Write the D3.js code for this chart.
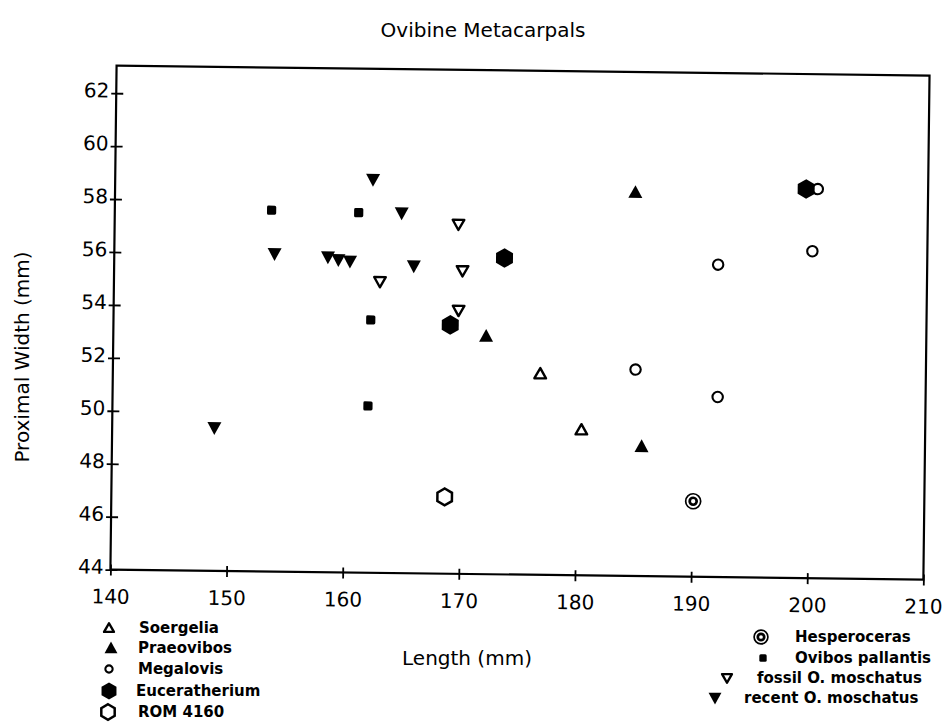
<!DOCTYPE html>
<meta charset="utf-8">
<html>
<head>
<script src="https://d3js.org/d3.v7.min.js"></script>
<style>
  body { margin: 0; background: white; }
  text { font-family: "DejaVu Sans", sans-serif; fill: black; }
  .legend text { font-weight: bold; font-size: 15px; }
</style>
</head>
<body>
<div id="chart"></div>
<script>
// values: [length mm, proximal width mm]
const soergelia       = [[176.8, 51.6], [180.4, 49.5]];
const praeovibos      = [[172.1, 53.0], [184.8, 58.5], [185.6, 48.9]];
const megalovis       = [[185.0, 51.8], [192.1, 50.8], [192.0, 55.8], [200.1, 56.35], [200.5, 58.7]];
const euceratherium   = [[169.0, 53.4], [173.6, 55.95], [199.5, 58.7]];
const rom4160         = [[168.7, 46.9]];
const hesperoceras    = [[190.1, 46.85]];
const ovibosPallantis = [[153.5, 57.65], [161.0, 57.6], [162.15, 53.55], [162.0, 50.3]];
const fossilMoschatus = [[162.9, 55.0], [169.6, 57.2], [170.0, 55.45], [169.7, 53.95]];
const recentMoschatus = [[148.8, 49.4], [153.8, 56.0], [158.4, 55.9], [159.3, 55.8], [160.3, 55.75],
                         [162.2, 58.85], [164.7, 57.6], [165.8, 55.6]];

const xTicks = [140, 150, 160, 170, 180, 190, 200, 210];
const yTicks = [44, 46, 48, 50, 52, 54, 56, 58, 60, 62];

// draw order matters: circles go under the hexagon at 200 mm
const series = [
  {name: "Megalovis", kind: "circle", data: megalovis},
  {name: "Soergelia", kind: "triUpOpen", data: soergelia},
  {name: "Praeovibos", kind: "triUp", data: praeovibos},
  {name: "Euceratherium", kind: "hex", data: euceratherium},
  {name: "ROM 4160", kind: "hexOpen", data: rom4160},
  {name: "Hesperoceras", kind: "double", data: hesperoceras},
  {name: "Ovibos pallantis", kind: "square", data: ovibosPallantis},
  {name: "fossil O. moschatus", kind: "triDownOpen", data: fossilMoschatus},
  {name: "recent O. moschatus", kind: "triDown", data: recentMoschatus}
];

const width = 944, height = 722;
const margin = {left: 113, right: 18, top: 70, bottom: 148};

const svg = d3.select("#chart").append("svg")
  .attr("width", width).attr("height", height);

// the scan is tilted a little clockwise, so the plot box is too
const plot = svg.append("g").attr("transform", "rotate(0.7, 472, 361)");

const x = d3.scaleLinear().domain([140, 210]).range([margin.left, width - margin.right]);
const y = d3.scaleLinear().domain([44, 63.04]).range([height - margin.bottom, margin.top]);

function marker(g, kind, k) {
  k = k || 1;
  const tri = [[0, -7 * k], [7 * k, 5.8 * k], [-7 * k, 5.8 * k]];
  const hexPts = (r) => d3.range(6).map(i => {
    const a = (-90 + 60 * i) * Math.PI / 180;
    return [r * Math.cos(a), r * Math.sin(a)];
  });
  const line = d3.line();
  if (kind === "triUp") {
    g.append("path").attr("d", line(tri) + "Z").attr("fill", "black");
  } else if (kind === "triDown") {
    g.append("path").attr("d", line(tri) + "Z").attr("fill", "black").attr("transform", "rotate(180)");
  } else if (kind === "triUpOpen" || kind === "triDownOpen") {
    const pts = [[0, -5.6 * k], [5.8 * k, 4.6 * k], [-5.8 * k, 4.6 * k]];
    g.append("path").attr("d", line(pts) + "Z")
      .attr("fill", "white").attr("stroke", "black").attr("stroke-width", 2.4)
      .attr("stroke-linejoin", "round")
      .attr("transform", kind === "triDownOpen" ? "rotate(180)" : null);
  } else if (kind === "square") {
    g.append("rect").attr("x", -4.6 * k).attr("y", -4.6 * k)
      .attr("width", 9.2 * k).attr("height", 9.2 * k).attr("rx", 1.5).attr("fill", "black");
  } else if (kind === "circle") {
    g.append("circle").attr("r", 5.2 * k).attr("fill", "white")
      .attr("stroke", "black").attr("stroke-width", 2.1);
  } else if (kind === "hex") {
    g.append("path").attr("d", line(hexPts(9.8 * k)) + "Z").attr("fill", "black");
  } else if (kind === "hexOpen") {
    g.append("path").attr("d", line(hexPts(8.4 * k)) + "Z").attr("fill", "white")
      .attr("stroke", "black").attr("stroke-width", 2.5);
  } else if (kind === "double") {
    g.append("circle").attr("r", 7.5 * k).attr("fill", "white")
      .attr("stroke", "black").attr("stroke-width", 1.7);
    g.append("circle").attr("r", 3.5 * k).attr("fill", "white")
      .attr("stroke", "black").attr("stroke-width", 2.7);
  }
}

// frame
plot.append("rect")
  .attr("x", x(140)).attr("y", y(63.04))
  .attr("width", x(210) - x(140)).attr("height", y(44) - y(63.04))
  .attr("fill", "none").attr("stroke", "black").attr("stroke-width", 2.2);

// x axis, ticks cross the line
const xAxis = plot.append("g")
  .attr("transform", "translate(0," + y(44) + ")")
  .call(d3.axisBottom(x).tickValues(xTicks).tickSize(6).tickFormat(d3.format("d")));
xAxis.select(".domain").remove();
xAxis.selectAll(".tick line").attr("y1", -5).attr("y2", 6).attr("stroke-width", 1.8);
xAxis.selectAll(".tick text").attr("y", 27).attr("dy", "0.35em")
  .style("font-family", "DejaVu Sans").style("font-size", "20px");

// y axis
const yAxis = plot.append("g")
  .attr("transform", "translate(" + x(140) + ",0)")
  .call(d3.axisLeft(y).tickValues(yTicks).tickSize(6).tickFormat(d3.format("d")));
yAxis.select(".domain").remove();
yAxis.selectAll(".tick line").attr("x1", -5).attr("x2", 7).attr("stroke-width", 1.8);
yAxis.selectAll(".tick text").attr("x", -7).attr("dy", "0.32em").attr("y", -2.5)
  .style("font-family", "DejaVu Sans").style("font-size", "20px");

// points
series.forEach(s => {
  plot.append("g").selectAll("g")
    .data(s.data).enter()
    .append("g")
    .attr("transform", d => "translate(" + x(d[0]) + "," + y(d[1]) + ")")
    .each(function() { marker(d3.select(this), s.kind); });
});

// titles
svg.append("text").attr("x", 483).attr("y", 30).attr("dy", "0.35em")
  .attr("text-anchor", "middle").style("font-size", "20px").text("Ovibine Metacarpals");
svg.append("text").attr("x", 467).attr("y", 658).attr("dy", "0.35em")
  .attr("text-anchor", "middle").style("font-size", "20px").text("Length (mm)");
svg.append("text").attr("transform", "translate(22,357) rotate(-90)").attr("dy", "0.35em")
  .attr("text-anchor", "middle").style("font-size", "20px").text("Proximal Width (mm)");

// legends: symbol position, text start
const leftLegend = [
  {kind: "triUpOpen", label: "Soergelia", sx: 109, tx: 139, y: 628},
  {kind: "triUp", label: "Praeovibos", sx: 111, tx: 138, y: 648},
  {kind: "circle", label: "Megalovis", sx: 109, tx: 138, y: 669},
  {kind: "hex", label: "Euceratherium", sx: 109, tx: 136, y: 691},
  {kind: "hexOpen", label: "ROM 4160", sx: 108, tx: 138, y: 712}
];
const rightLegend = [
  {kind: "double", label: "Hesperoceras", sx: 761, tx: 795, y: 637},
  {kind: "square", label: "Ovibos pallantis", sx: 763, tx: 795, y: 658},
  {kind: "triDownOpen", label: "fossil O. moschatus", sx: 727, tx: 757, y: 678},
  {kind: "triDown", label: "recent O. moschatus", sx: 715, tx: 744, y: 698}
];
const legendScale = {triUpOpen: 0.85, triUp: 0.92, circle: 0.7, hex: 0.88, hexOpen: 0.92,
  double: 0.92, square: 0.8, triDownOpen: 0.85, triDown: 0.92};

const legend = svg.append("g").attr("class", "legend");
leftLegend.concat(rightLegend).forEach(d => {
  const g = legend.append("g").attr("transform", "translate(" + d.sx + "," + d.y + ")");
  marker(g, d.kind, legendScale[d.kind]);
  legend.append("text").attr("x", d.tx).attr("y", d.y).attr("dy", "0.35em").text(d.label);
});
</script>
</body>
</html>
